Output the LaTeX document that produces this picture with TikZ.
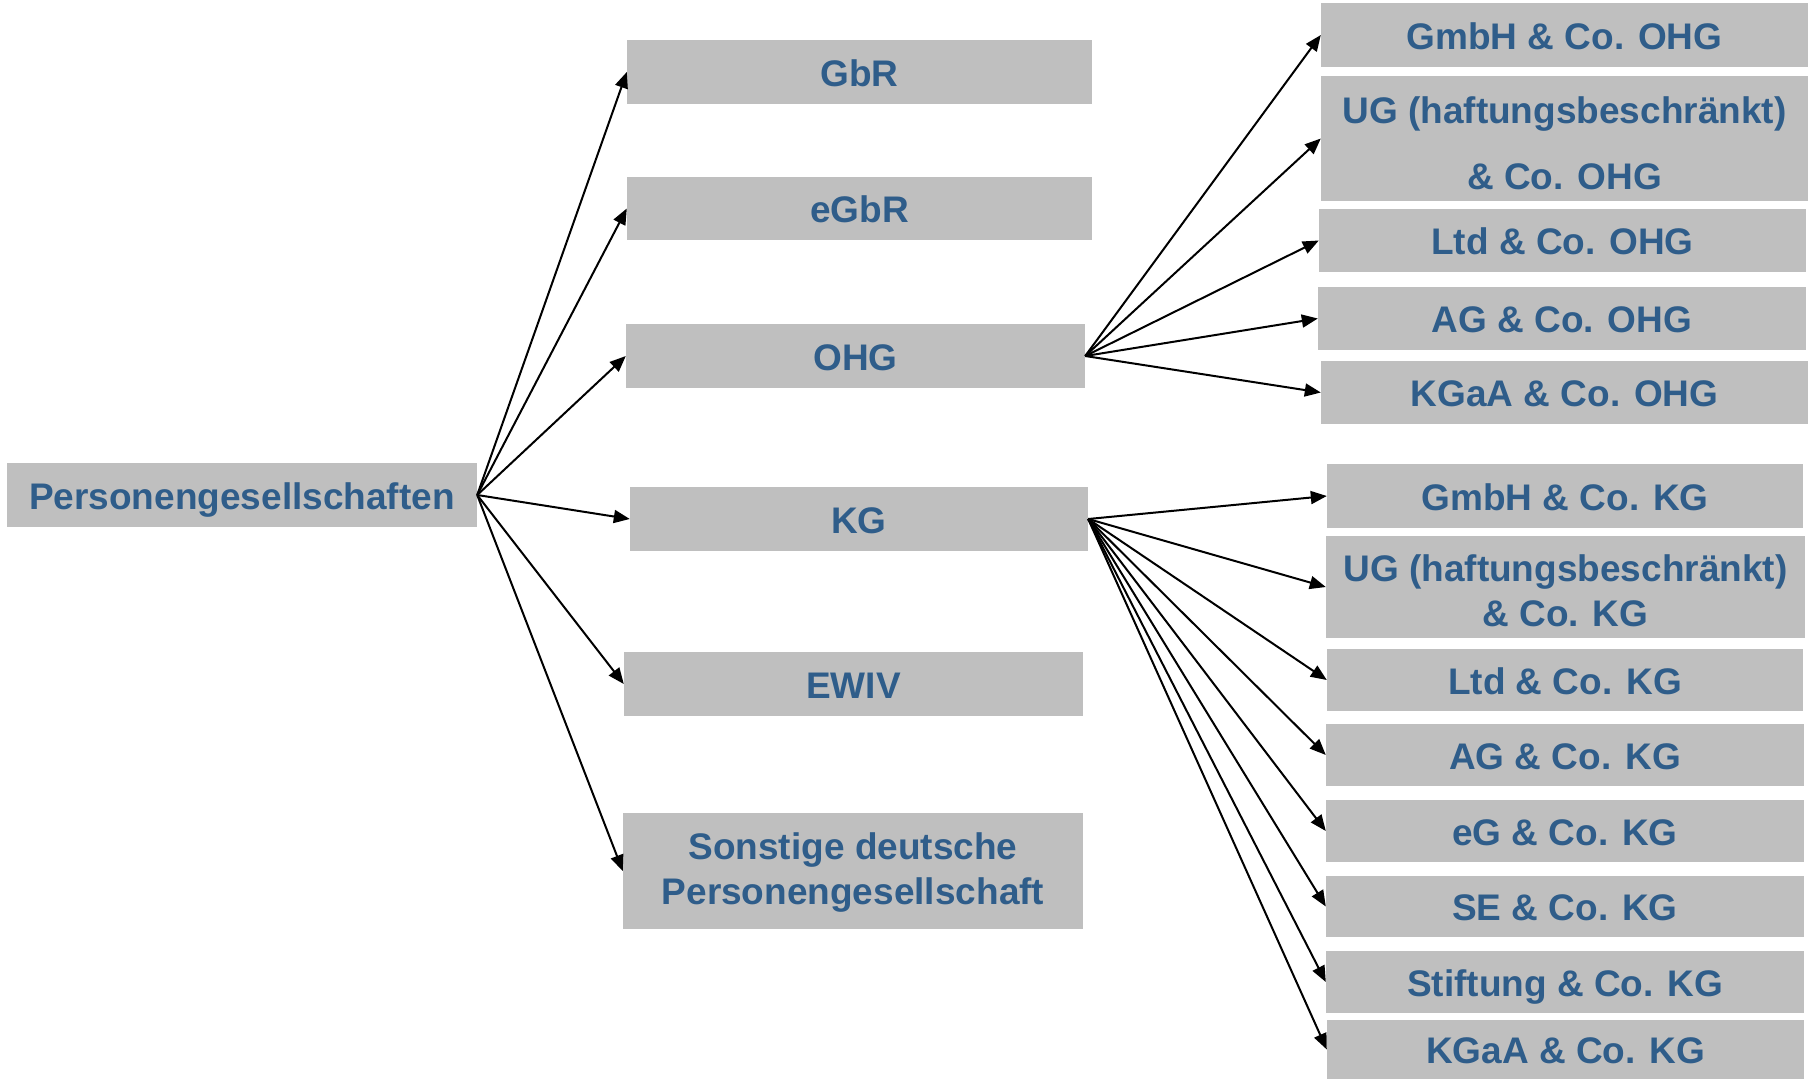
\documentclass[tikz,border=0pt]{standalone}
\usepackage{fontspec}
\setmainfont{Liberation Sans}
\usetikzlibrary{arrows.meta}
\definecolor{boxgray}{RGB}{191,191,191}
\definecolor{txtblue}{RGB}{47,93,138}
\newcommand\twol[1]{\begin{tabular}[t]{@{}c@{}}#1\end{tabular}}
\tikzset{
  rf/.style={fill=boxgray,text=txtblue,font=\fontsize{37}{45}\selectfont\bfseries,align=center,inner sep=0pt},
  one/.style={text height=32pt,text depth=3.5pt},
  arr/.style={->,line width=2pt}
}
\begin{document}
\begin{tikzpicture}[x=1pt,y=-1pt,>={Triangle[length=16pt,width=13pt]},line join=round]
            \useasboundingbox (0,0) rectangle (1810,1079);
            \node[rf,one,minimum width=470,minimum height=64] (root) at (242,495) {Personengesellschaften};
            % mittlere Spalte
            \node[rf,one,minimum width=465,minimum height=64] (gbr) at (859.5,72) {GbR};
            \node[rf,one,minimum width=465,minimum height=63] (egbr) at (859.5,208.5) {eGbR};
            \node[rf,one,minimum width=459,minimum height=64] (ohg) at (855.5,356) {OHG};
            \node[rf,one,minimum width=458,minimum height=64] (kg) at (859,519) {KG};
            \node[rf,one,minimum width=459,minimum height=64] (ewiv) at (853.5,684) {EWIV};
            \node[rf,text height=31.9pt,text depth=55pt,minimum width=460,minimum height=116] (sonst) at (853,871) {\twol{Sonstige deutsche\\Personengesellschaft}};
            % OHG-Varianten
            \node[rf,one,minimum width=487,minimum height=64] (o1) at (1564.5,35) {GmbH \& Co. OHG};
            \node[rf,text height=46.9pt,text depth=76pt,minimum width=487,minimum height=125] (o2) at (1564.5,138.5) {\twol{UG (haftungsbeschränkt)\\[21pt]\& Co. OHG}};
            \node[rf,one,minimum width=487,minimum height=63] (o3) at (1562.5,240.5) {Ltd \& Co. OHG};
            \node[rf,one,minimum width=488,minimum height=63] (o4) at (1562,318.5) {AG \& Co. OHG};
            \node[rf,one,minimum width=487,minimum height=63] (o5) at (1564.5,392.5) {KGaA \& Co. OHG};
            % KG-Varianten
            \node[rf,one,minimum width=476,minimum height=64] (k1) at (1565,496) {GmbH \& Co. KG};
            \node[rf,text height=43.5pt,text depth=55pt,minimum width=479,minimum height=102] (k2) at (1565.5,587) {\twol{UG (haftungsbeschränkt)\\\& Co. KG}};
            \node[rf,one,minimum width=476,minimum height=62] (k3) at (1565,680) {Ltd \& Co. KG};
            \node[rf,one,minimum width=478,minimum height=62] (k4) at (1565,755) {AG \& Co. KG};
            \node[rf,one,minimum width=478,minimum height=62] (k5) at (1565,831) {eG \& Co. KG};
            \node[rf,one,minimum width=478,minimum height=61] (k6) at (1565,906.5) {SE \& Co. KG};
            \node[rf,one,minimum width=478,minimum height=62] (k7) at (1565,982) {Stiftung \& Co. KG};
            \node[rf,one,minimum width=477,minimum height=59] (k8) at (1565.5,1049.5) {KGaA \& Co. KG};
            \foreach \n in {gbr,egbr,ohg,kg,ewiv,sonst}\draw[arr] (root.east)--(\n.west);
            \foreach \n in {o1,o2,o3,o4,o5}\draw[arr] (ohg.east)--(\n.west);
            \foreach \n in {k1,k2,k3,k4,k5,k6,k7,k8}\draw[arr] (kg.east)--(\n.west);
        \end{tikzpicture}
\end{document}
